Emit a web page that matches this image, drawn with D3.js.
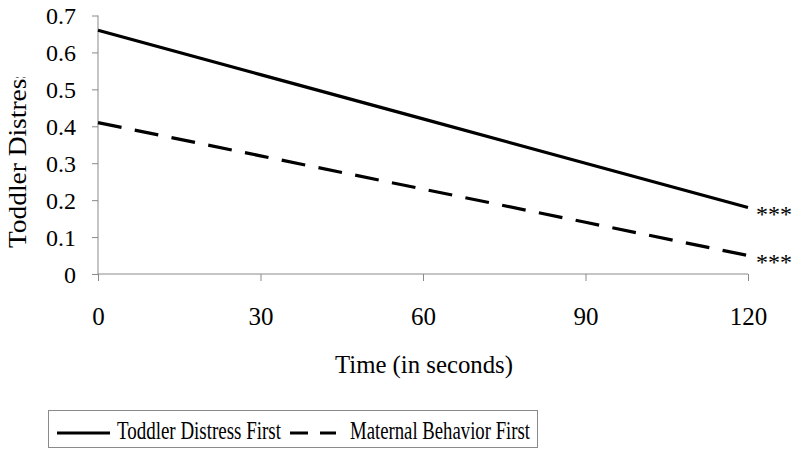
<!DOCTYPE html>
<html>
<head>
<meta charset="utf-8">
<script src="https://cdn.jsdelivr.net/npm/d3@7"></script>
<style>
  html, body { margin: 0; padding: 0; background: #fff; }
  svg { display: block; }
  text { font-family: "Liberation Serif", "Times New Roman", serif; fill: #000; }
</style>
</head>
<body>
<svg id="chart" width="800" height="461"></svg>
<script>
// ---- data ----
const times = [0, 30, 60, 90, 120];
const toddlerFirst = [0.66, 0.54, 0.42, 0.30, 0.18];
const maternalFirst = [0.41, 0.32, 0.23, 0.14, 0.05];
const seriesNames = ["Toddler Distress First", "Maternal Behavior First"];
const significance = ["***", "***"];
const yTicks = [0, 0.1, 0.2, 0.3, 0.4, 0.5, 0.6, 0.7];
const xTicks = [0, 30, 60, 90, 120];
const xTitle = "Time (in seconds)";
const yTitle = "Toddler Distress";

const svg = d3.select("#chart");
const x = d3.scaleLinear().domain([0, 120]).range([98, 748]);
const y = d3.scaleLinear().domain([0, 0.7]).range([274, 15.5]);
const axisColor = "#8a8a8a";

// y axis
const yAxis = svg.append("g").attr("transform", `translate(${x(0)},0)`)
  .call(d3.axisLeft(y).tickValues(yTicks).tickSize(6).tickPadding(16)
    .tickFormat(d => d === 0 ? "0" : d3.format(".1f")(d)));
yAxis.attr("font-size", 24).attr("font-family", "Liberation Serif");
yAxis.select(".domain").attr("stroke", axisColor).attr("d", `M0,${y(0.7)}V${y(0)}`);
yAxis.selectAll(".tick line").attr("stroke", axisColor);
yAxis.selectAll(".tick text").attr("font-size", 24)
  .attr("dy", "0.34em").attr("fill", "#000")
  .each(function (d) {
    if (d !== 0) d3.select(this).attr("textLength", 30).attr("lengthAdjust", "spacingAndGlyphs");
  });

// x axis
const xAxis = svg.append("g").attr("transform", `translate(0,${y(0)})`)
  .call(d3.axisBottom(x).tickValues(xTicks).tickSize(7).tickPadding(0));
xAxis.attr("font-size", 25).attr("font-family", "Liberation Serif");
xAxis.select(".domain").attr("stroke", axisColor).attr("d", `M${x(0)},0H${x(120)}`);
xAxis.selectAll(".tick line").attr("stroke", axisColor);
xAxis.selectAll(".tick text").attr("font-size", 25)
  .attr("y", 51).attr("dy", 0).attr("fill", "#000");

// axis titles
svg.append("text").attr("x", (x(0) + x(120)) / 2 + 1).attr("y", 373)
  .attr("text-anchor", "middle").attr("font-size", 26)
  .attr("textLength", 178).attr("lengthAdjust", "spacingAndGlyphs")
  .text(xTitle);

svg.append("clipPath").attr("id", "yclip")
  .append("rect").attr("x", 0).attr("y", 77).attr("width", 60).attr("height", 200);
svg.append("g").attr("clip-path", "url(#yclip)")
  .append("text")
  .attr("transform", "translate(26,248) rotate(-90)")
  .attr("font-size", 26).attr("textLength", 180).attr("lengthAdjust", "spacingAndGlyphs")
  .text(yTitle);

// lines
const series = [
  { name: seriesNames[0], values: toddlerFirst, dash: null },
  { name: seriesNames[1], values: maternalFirst, dash: "24,13.5" }
];
const line = d3.line().x((d, i) => x(times[i])).y(d => y(d));
series.forEach((s, k) => {
  svg.append("path").datum(s.values).attr("d", line)
    .attr("fill", "none").attr("stroke", "#000").attr("stroke-width", 3.2)
    .attr("stroke-dasharray", s.dash);
  svg.append("text").attr("x", x(times[times.length - 1]) + 8)
    .attr("y", y(s.values[s.values.length - 1]) + 14)
    .attr("font-size", 24).attr("textLength", 36).attr("lengthAdjust", "spacingAndGlyphs")
    .text(significance[k]);
});

// legend
const lg = svg.append("g");
lg.append("rect").attr("x", 48.5).attr("y", 410.5).attr("width", 489).attr("height", 37)
  .attr("fill", "#fff").attr("stroke", "#8a8a8a").attr("stroke-width", 1);
lg.append("line").attr("x1", 57).attr("x2", 110).attr("y1", 433).attr("y2", 433)
  .attr("stroke", "#000").attr("stroke-width", 3.2);
lg.append("text").attr("x", 117).attr("y", 439).attr("font-size", 25)
  .attr("textLength", 164).attr("lengthAdjust", "spacingAndGlyphs").text(seriesNames[0]);
lg.append("line").attr("x1", 290).attr("x2", 336).attr("y1", 433).attr("y2", 433)
  .attr("stroke", "#000").attr("stroke-width", 3.2).attr("stroke-dasharray", "18,12");
lg.append("text").attr("x", 350).attr("y", 439).attr("font-size", 25)
  .attr("textLength", 180).attr("lengthAdjust", "spacingAndGlyphs").text(seriesNames[1]);
</script>
</body>
</html>
